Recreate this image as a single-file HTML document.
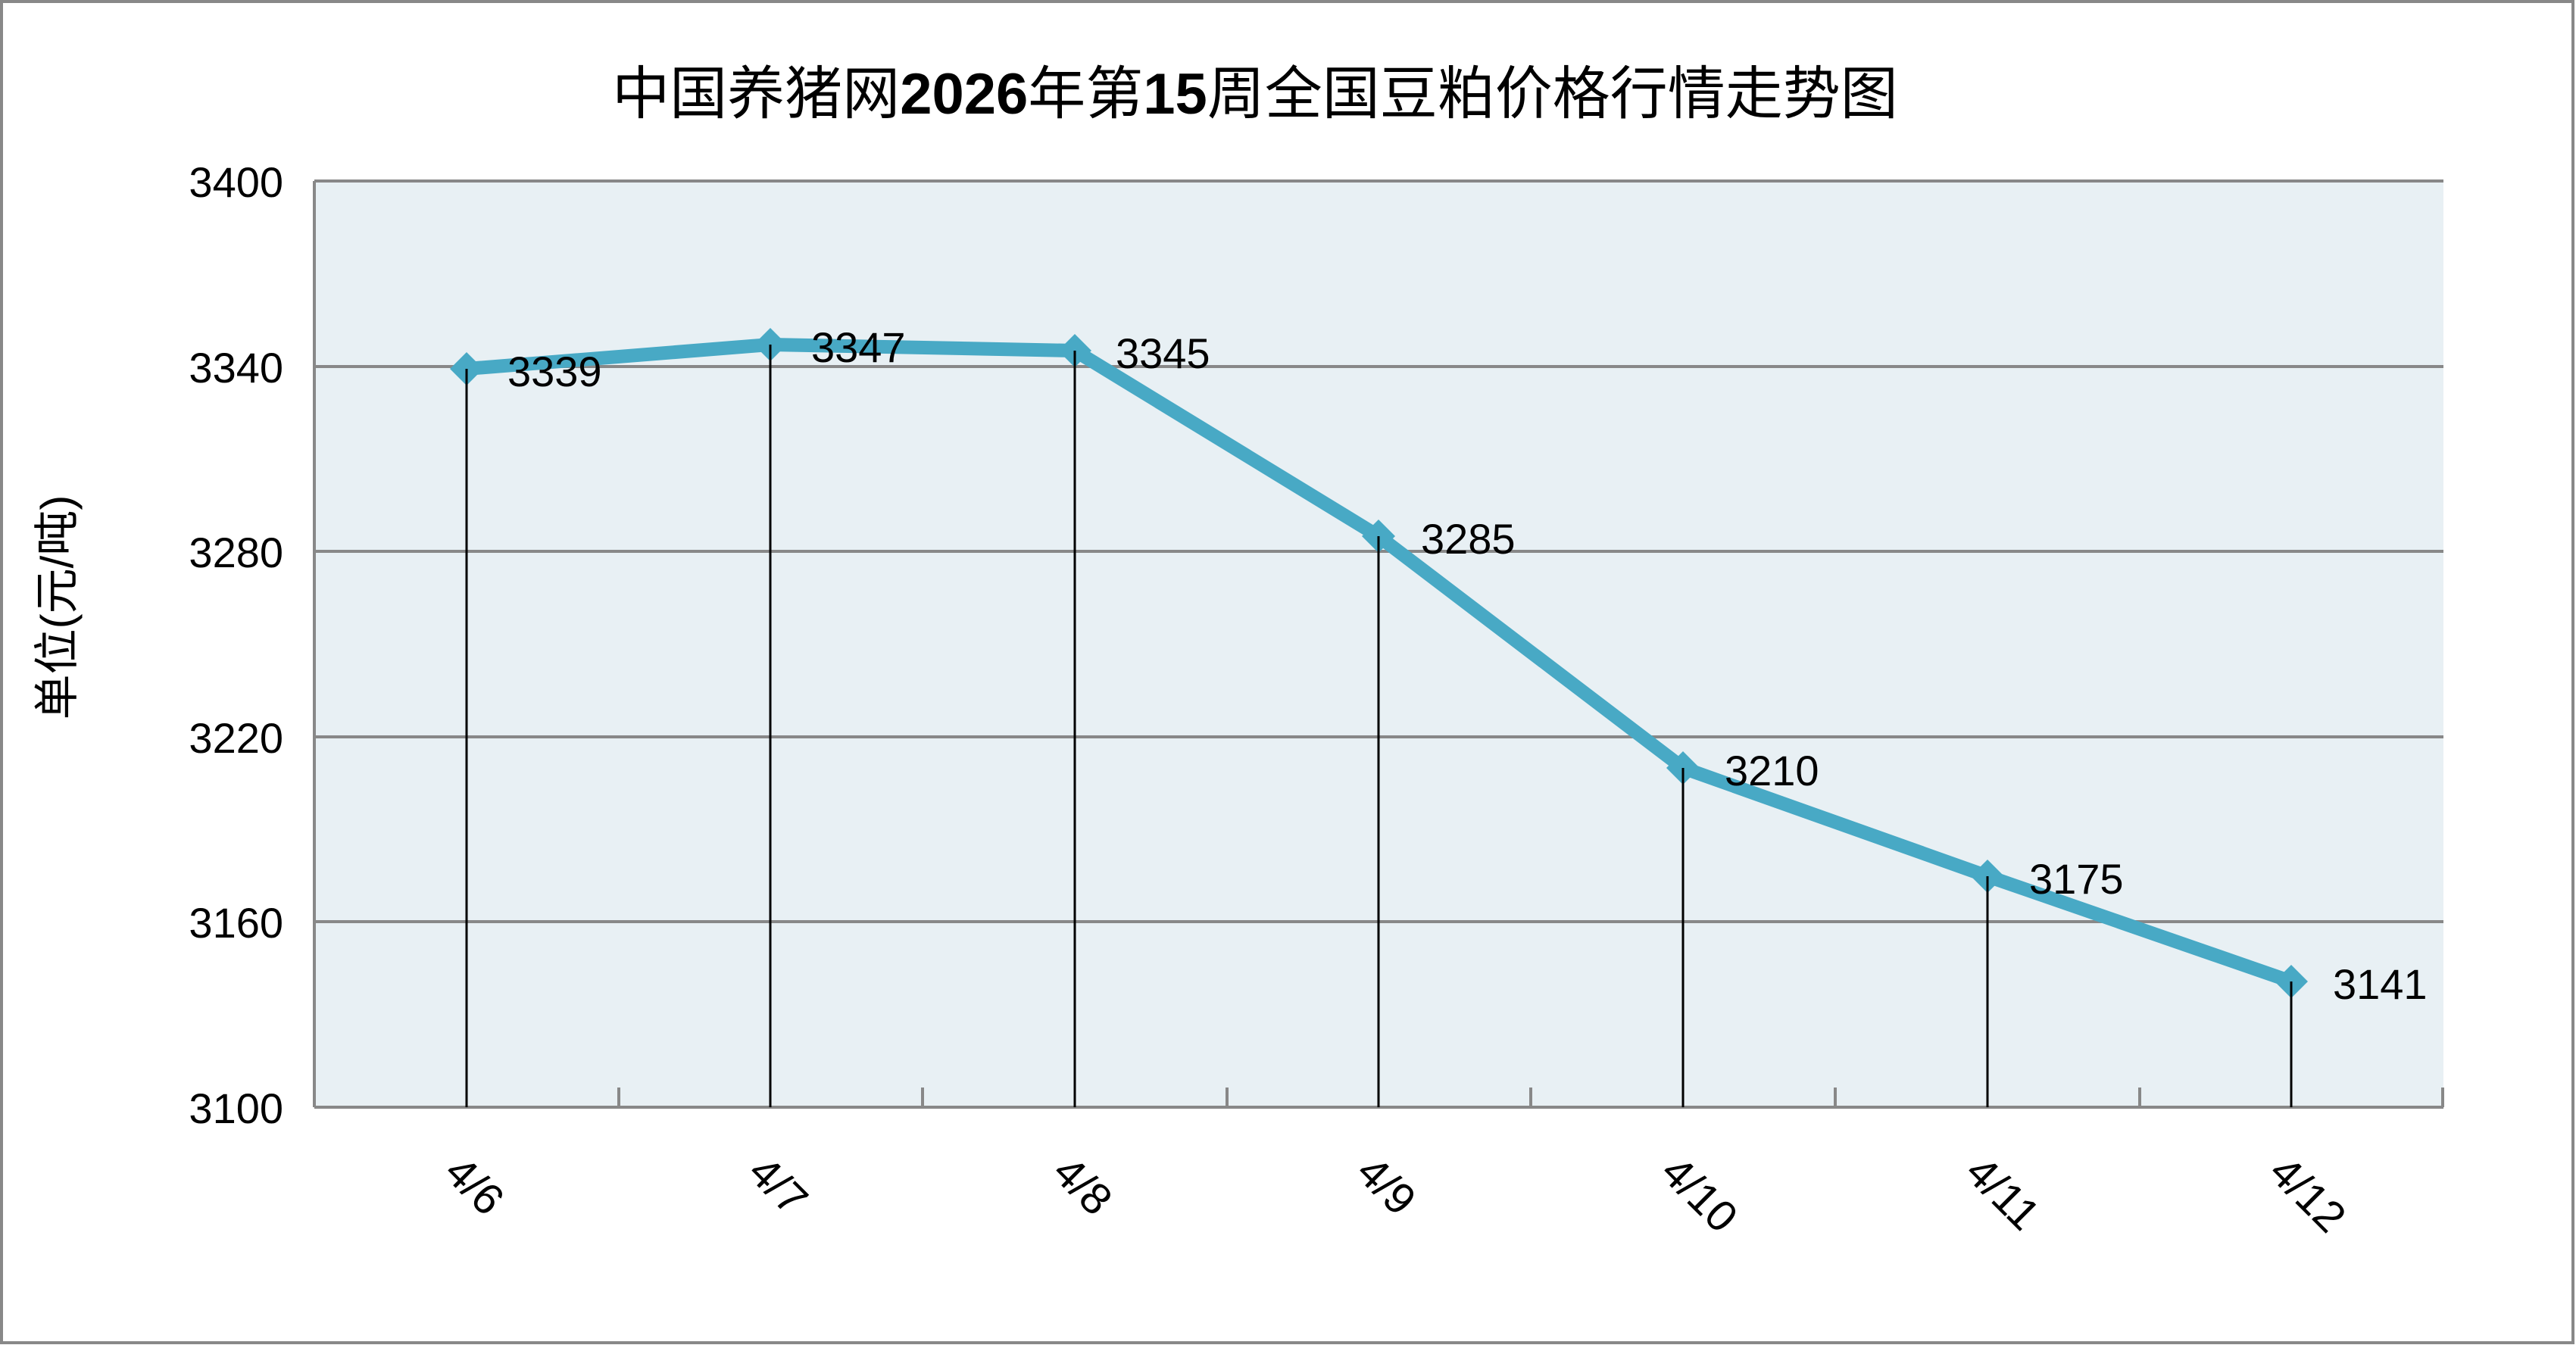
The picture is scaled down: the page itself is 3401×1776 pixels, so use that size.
<!DOCTYPE html>
<html><head><meta charset="utf-8"><style>
html,body{margin:0;padding:0;background:#fff}
svg{display:block}
text{font-family:"Liberation Sans","Noto Sans CJK SC",sans-serif;fill:#000}
</style></head><body>
<svg width="3401" height="1776" viewBox="0 0 3401 1776" xmlns="http://www.w3.org/2000/svg">
<rect x="2" y="2" width="3395" height="1771" fill="#fff" stroke="#888" stroke-width="4"/>
<text x="1657" y="150" font-size="76" text-anchor="middle" font-family="'Noto Sans CJK SC','Liberation Sans',sans-serif">中国养猪网<tspan font-weight="bold">2026</tspan>年第<tspan font-weight="bold">15</tspan>周全国豆粕价格行情走势图</text>
<rect x="415" y="239" width="2811" height="1223" fill="#E8F0F4"/>
<g stroke="#888" stroke-width="4">
<line x1="415" y1="239" x2="3226" y2="239"/>
<line x1="415" y1="484" x2="3226" y2="484"/>
<line x1="415" y1="728" x2="3226" y2="728"/>
<line x1="415" y1="973" x2="3226" y2="973"/>
<line x1="415" y1="1217" x2="3226" y2="1217"/>
<line x1="415" y1="1462" x2="3226" y2="1462"/>
<line x1="415" y1="239" x2="415" y2="1462"/>
<line x1="817" y1="1436" x2="817" y2="1462"/>
<line x1="1218" y1="1436" x2="1218" y2="1462"/>
<line x1="1620" y1="1436" x2="1620" y2="1462"/>
<line x1="2021" y1="1436" x2="2021" y2="1462"/>
<line x1="2423" y1="1436" x2="2423" y2="1462"/>
<line x1="2825" y1="1436" x2="2825" y2="1462"/>
<line x1="3225" y1="1436" x2="3225" y2="1462"/>
</g>
<g font-size="56" text-anchor="end">
<text x="374" y="260">3400</text>
<text x="374" y="505">3340</text>
<text x="374" y="749">3280</text>
<text x="374" y="994">3220</text>
<text x="374" y="1238">3160</text>
<text x="374" y="1483">3100</text>
</g>
<text transform="translate(96,802) rotate(-90)" font-size="60" text-anchor="middle" font-family="'Noto Sans CJK SC','Liberation Sans',sans-serif">单位(元/吨)</text>
<g stroke="#000" stroke-width="3">
<line x1="616" y1="487" x2="616" y2="1462"/>
<line x1="1017" y1="455" x2="1017" y2="1462"/>
<line x1="1419" y1="463" x2="1419" y2="1462"/>
<line x1="1820" y1="708" x2="1820" y2="1462"/>
<line x1="2222" y1="1014" x2="2222" y2="1462"/>
<line x1="2624" y1="1157" x2="2624" y2="1462"/>
<line x1="3025" y1="1296" x2="3025" y2="1462"/>
</g>
<polyline fill="none" stroke="#48A9C5" stroke-width="18" stroke-linejoin="round" points="616,487 1017,455 1419,463 1820,708 2222,1014 2624,1157 3025,1296"/>
<g fill="#48A9C5">
<polygon points="616,465 638,487 616,509 594,487"/>
<polygon points="1017,433 1039,455 1017,477 995,455"/>
<polygon points="1419,441 1441,463 1419,485 1397,463"/>
<polygon points="1820,686 1842,708 1820,730 1798,708"/>
<polygon points="2222,992 2244,1014 2222,1036 2200,1014"/>
<polygon points="2624,1135 2646,1157 2624,1179 2602,1157"/>
<polygon points="3025,1274 3047,1296 3025,1318 3003,1296"/>
</g>
<g stroke="#000" stroke-width="3">
<line x1="616" y1="487" x2="616" y2="510"/>
<line x1="1017" y1="455" x2="1017" y2="478"/>
<line x1="1419" y1="463" x2="1419" y2="486"/>
<line x1="1820" y1="708" x2="1820" y2="731"/>
<line x1="2222" y1="1014" x2="2222" y2="1037"/>
<line x1="2624" y1="1157" x2="2624" y2="1180"/>
<line x1="3025" y1="1296" x2="3025" y2="1319"/>
</g>
<g font-size="56">
<text x="670" y="510">3339</text>
<text x="1071" y="478">3347</text>
<text x="1473" y="486">3345</text>
<text x="1876" y="731">3285</text>
<text x="2277" y="1037">3210</text>
<text x="2679" y="1180">3175</text>
<text x="3080" y="1319">3141</text>
</g>
<g font-size="58">
<text transform="translate(584,1551) rotate(45)">4/6</text>
<text transform="translate(985,1551) rotate(45)">4/7</text>
<text transform="translate(1387,1551) rotate(45)">4/8</text>
<text transform="translate(1788,1551) rotate(45)">4/9</text>
<text transform="translate(2190,1551) rotate(45)">4/10</text>
<text transform="translate(2592,1551) rotate(45)">4/11</text>
<text transform="translate(2993,1551) rotate(45)">4/12</text>
</g>
</svg>
</body></html>
